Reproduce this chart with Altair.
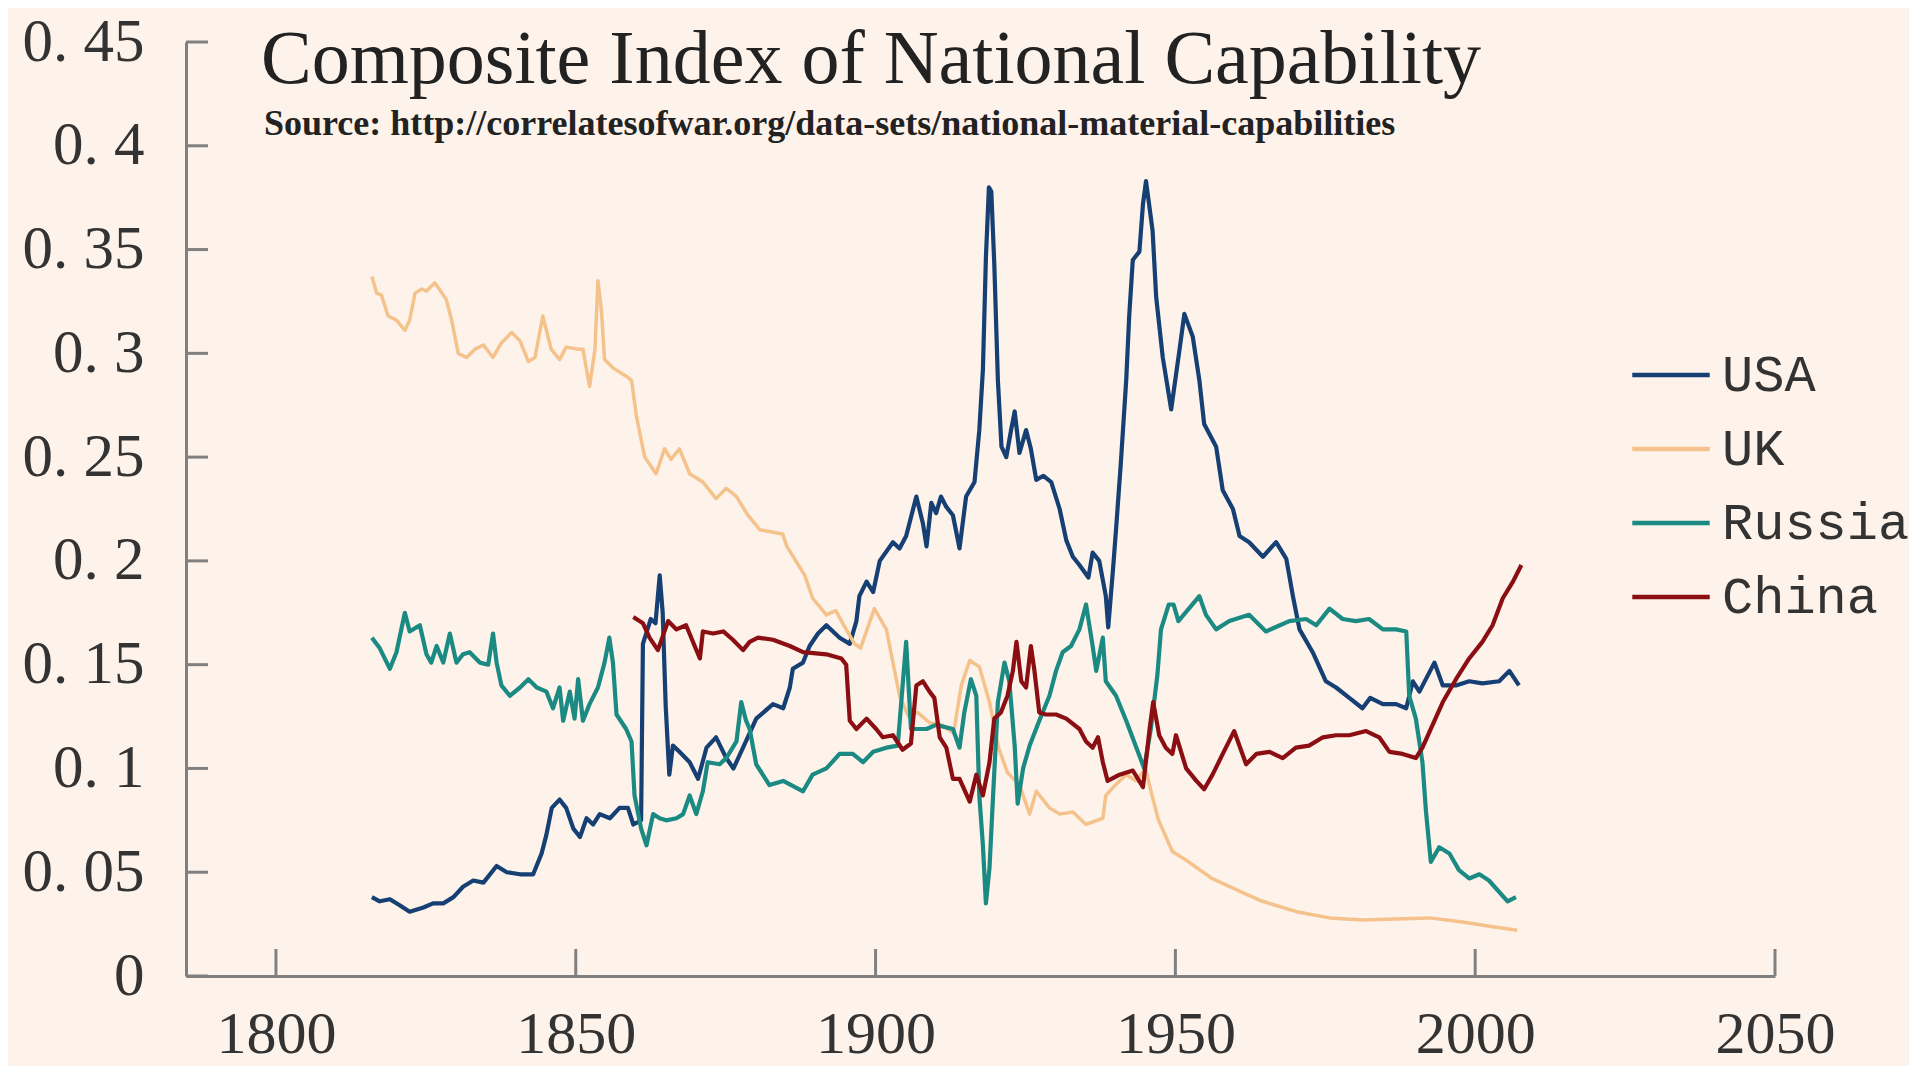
import altair as alt
import pandas as pd

countries = ["USA", "UK", "Russia", "China"]
colors = ["#163f74", "#f5c28c", "#1b8a82", "#8b0f12"]

usa_years = [1816, 1817.3, 1819, 1820.7, 1822.3, 1824.6, 1826.2, 1827.9, 1829.6, 1831.2, 1832.9, 1834.6,
             1836.8, 1838.5, 1840.7, 1842.9, 1844.3, 1845.1, 1846, 1847.3, 1848.4, 1849.6, 1850.7, 1851.8,
             1852.9, 1854, 1855.7, 1857.3, 1858.7, 1859.6, 1860.9, 1861.2, 1862.5, 1863.3, 1864, 1864.5,
             1865, 1865.6, 1866.2, 1867.3, 1869, 1870.4, 1871.8, 1873.4, 1875.1, 1876.3, 1877.9, 1880.1,
             1882.9, 1884.6, 1885.7, 1886.2, 1887.9, 1889, 1890.4, 1891.8, 1894, 1895.7, 1896.8, 1897.3,
             1898.5, 1899.6, 1900.7, 1902.9, 1904, 1905.1, 1906.8, 1907.9, 1908.5, 1909.3, 1910.1, 1910.9,
             1911.8, 1912.9, 1914, 1915.1, 1916.5, 1917.3, 1917.9, 1918.4, 1918.9, 1919.3, 1919.8, 1920.4,
             1921, 1921.8, 1922.6, 1923.2, 1924, 1925.1, 1925.9, 1926.8, 1928, 1929.3, 1930.7, 1931.8,
             1932.9, 1934, 1935.5, 1936.2, 1937.3, 1938.4, 1938.8, 1939.6, 1940.1, 1940.9, 1941.8, 1942.3,
             1942.9, 1944, 1944.6, 1945.1, 1945.7, 1946.2, 1946.8, 1947.9, 1949.3, 1950.7, 1951.5, 1952.9,
             1954, 1954.8, 1956.8, 1957.9, 1959.6, 1960.7, 1962.3, 1964.6, 1966.8, 1968.5, 1969.6, 1970.7,
             1972.9, 1975.1, 1976.8, 1979, 1981.2, 1982.5, 1984.6, 1986.8, 1988.5, 1989.6, 1990.7, 1993.2,
             1994.6, 1996.8, 1999, 2001.2, 2004, 2005.7, 2007.3]
usa_vals = [0.038, 0.036, 0.037, 0.034, 0.031, 0.033, 0.035, 0.035, 0.038, 0.043, 0.046, 0.045,
            0.053, 0.050, 0.049, 0.049, 0.059, 0.068, 0.081, 0.085, 0.081, 0.071, 0.067, 0.076,
            0.073, 0.078, 0.076, 0.081, 0.081, 0.073, 0.075, 0.160, 0.172, 0.170, 0.193, 0.175,
            0.130, 0.097, 0.111, 0.108, 0.103, 0.095, 0.110, 0.115, 0.105, 0.100, 0.110, 0.124,
            0.131, 0.129, 0.139, 0.148, 0.151, 0.159, 0.165, 0.169, 0.163, 0.160, 0.171, 0.183,
            0.190, 0.185, 0.200, 0.209, 0.206, 0.212, 0.231, 0.218, 0.207, 0.228, 0.223, 0.231,
            0.226, 0.222, 0.206, 0.231, 0.238, 0.263, 0.292, 0.346, 0.380, 0.378, 0.343, 0.287,
            0.255, 0.250, 0.263, 0.272, 0.252, 0.263, 0.254, 0.239, 0.241, 0.238, 0.225, 0.210,
            0.202, 0.198, 0.192, 0.204, 0.200, 0.183, 0.168, 0.196, 0.215, 0.247, 0.287, 0.318,
            0.345, 0.349, 0.372, 0.383, 0.370, 0.359, 0.327, 0.298, 0.273, 0.302, 0.319, 0.308,
            0.287, 0.266, 0.255, 0.234, 0.225, 0.212, 0.209, 0.202, 0.209, 0.201, 0.183, 0.167,
            0.156, 0.142, 0.139, 0.134, 0.129, 0.134, 0.131, 0.131, 0.129, 0.142, 0.137, 0.151,
            0.140, 0.140, 0.142, 0.141, 0.142, 0.147, 0.140]

uk_years = [1816, 1816.8, 1817.6, 1818.7, 1820.1, 1821.5, 1822.3, 1823.2, 1824.3, 1825.1, 1826.5, 1828.4,
            1829.3, 1830.4, 1831.8, 1833.2, 1834.6, 1836.2, 1837.6, 1839.3, 1840.7, 1842.1, 1843.2, 1844.5,
            1845.9, 1847.3, 1848.4, 1850.4, 1851.2, 1852.3, 1853.2, 1853.7, 1854.3, 1854.8, 1856.2, 1858.4,
            1859.3, 1860.1, 1861.5, 1863.4, 1864.8, 1865.9, 1867.3, 1869, 1871.2, 1873.4, 1875.1, 1876.8,
            1878.7, 1880.7, 1882.5, 1884.5, 1885.2, 1888.2, 1889.5, 1891.8, 1893.4, 1894.5, 1896.5, 1897.5,
            1899.8, 1901.8, 1902.9, 1904, 1905.5, 1907, 1909, 1911, 1913, 1914.3, 1915.7, 1917.3,
            1919, 1920.5, 1922, 1924, 1925.7, 1926.8, 1929, 1930.7, 1932.9, 1935.1, 1937.9, 1938.4,
            1940, 1941.8, 1943.5, 1945, 1946.1, 1947.2, 1949.5, 1952.2, 1956.1, 1960.6, 1964.5, 1970.2,
            1975.7, 1981.3, 1986.8, 1992.4, 1997.9, 2002.4, 2007]
uk_vals = [0.337, 0.329, 0.328, 0.318, 0.316, 0.311, 0.316, 0.329, 0.331, 0.330, 0.334, 0.326,
           0.316, 0.300, 0.298, 0.302, 0.304, 0.298, 0.305, 0.310, 0.306, 0.296, 0.298, 0.318,
           0.302, 0.297, 0.303, 0.302, 0.302, 0.284, 0.302, 0.335, 0.320, 0.297, 0.293, 0.289,
           0.287, 0.270, 0.250, 0.242, 0.254, 0.249, 0.254, 0.242, 0.238, 0.230, 0.235, 0.231,
           0.222, 0.215, 0.214, 0.213, 0.207, 0.193, 0.182, 0.174, 0.176, 0.170, 0.160, 0.158,
           0.177, 0.167, 0.151, 0.135, 0.125, 0.127, 0.122, 0.121, 0.117, 0.140, 0.152, 0.149,
           0.132, 0.110, 0.098, 0.092, 0.078, 0.089, 0.081, 0.078, 0.079, 0.073, 0.076, 0.087,
           0.092, 0.097, 0.094, 0.100, 0.087, 0.075, 0.060, 0.055, 0.047, 0.041, 0.036, 0.031,
           0.028, 0.027, 0.0275, 0.028, 0.026, 0.024, 0.022]

russia_years = [1816, 1817.3, 1819, 1820.1, 1821.5, 1822.3, 1824, 1825.1, 1825.9, 1826.8, 1827.9, 1829,
                1830.1, 1831.2, 1832.3, 1834, 1835.4, 1836.2, 1836.8, 1837.6, 1839, 1840.7, 1842.1, 1843.5,
                1845.1, 1846.2, 1847.3, 1847.9, 1849, 1849.8, 1850.4, 1851.2, 1852.3, 1853.7, 1854.8, 1855.6,
                1856.2, 1856.8, 1858.4, 1859.3, 1859.8, 1860.9, 1861.8, 1862.9, 1864, 1865.1, 1866.8, 1867.9,
                1869, 1870.1, 1871.2, 1872, 1874, 1875.1, 1876.8, 1877.6, 1878.4, 1879, 1880.1, 1882.3,
                1884.6, 1887.9, 1889.5, 1891.8, 1894, 1896.2, 1897.9, 1899.6, 1901.8, 1903.7, 1905.1, 1905.9,
                1906.8, 1908.5, 1910.1, 1912.9, 1914, 1914.8, 1915.9, 1916.8, 1917.3, 1917.9, 1918.4, 1919,
                1919.6, 1920.4, 1921.5, 1922.3, 1923.2, 1923.7, 1924.6, 1925.7, 1927.3, 1929, 1930.1, 1931.2,
                1932.6, 1934, 1935.1, 1936.2, 1936.8, 1937.9, 1938.4, 1940.1, 1941.8, 1943.5, 1944.8, 1945.9,
                1947, 1947.6, 1948.9, 1949.7, 1950.5, 1954, 1955.1, 1956.8, 1959, 1962.3, 1965.1, 1969,
                1971.8, 1973.5, 1975.7, 1977.9, 1980.1, 1982.3, 1984.6, 1986.8, 1988.5, 1989, 1990.1, 1991.2,
                1991.8, 1992.6, 1994, 1995.7, 1997.3, 1999, 2000.7, 2002.3, 2005.4, 2006.8]
russia_vals = [0.163, 0.158, 0.148, 0.156, 0.175, 0.166, 0.169, 0.155, 0.151, 0.159, 0.151, 0.165,
               0.151, 0.155, 0.156, 0.151, 0.150, 0.165, 0.151, 0.140, 0.135, 0.139, 0.143, 0.139,
               0.137, 0.129, 0.139, 0.123, 0.137, 0.124, 0.143, 0.123, 0.131, 0.139, 0.151, 0.163,
               0.151, 0.126, 0.119, 0.113, 0.087, 0.071, 0.063, 0.078, 0.076, 0.075, 0.076, 0.078,
               0.087, 0.078, 0.089, 0.103, 0.102, 0.105, 0.113, 0.132, 0.123, 0.119, 0.102, 0.092,
               0.094, 0.089, 0.097, 0.100, 0.107, 0.107, 0.103, 0.108, 0.110, 0.111, 0.161, 0.119,
               0.119, 0.119, 0.121, 0.119, 0.110, 0.127, 0.143, 0.135, 0.087, 0.063, 0.035, 0.052,
               0.087, 0.132, 0.151, 0.142, 0.111, 0.083, 0.100, 0.111, 0.123, 0.135, 0.147, 0.156,
               0.159, 0.167, 0.179, 0.159, 0.147, 0.163, 0.142, 0.135, 0.123, 0.110, 0.100, 0.119,
               0.145, 0.167, 0.179, 0.179, 0.171, 0.183, 0.174, 0.167, 0.171, 0.174, 0.166, 0.171,
               0.172, 0.169, 0.177, 0.172, 0.171, 0.172, 0.167, 0.167, 0.166, 0.135, 0.124, 0.103,
               0.079, 0.055, 0.062, 0.059, 0.051, 0.047, 0.049, 0.046, 0.036, 0.038]

china_years = [1859.6, 1861.2, 1862.3, 1863.7, 1865.4, 1866.8, 1868.4, 1870.7, 1871.2, 1872.9, 1874.6, 1876.2,
               1877.9, 1879, 1880.4, 1882.9, 1885.7, 1887.9, 1891.8, 1894.3, 1895.1, 1895.7, 1896.8, 1898.5,
               1900.1, 1901.2, 1902.9, 1904.5, 1905.9, 1906.8, 1907.9, 1909, 1909.8, 1910.7, 1911.8, 1912.9,
               1914, 1915.7, 1916.8, 1917.9, 1919, 1919.8, 1920.9, 1922, 1922.9, 1923.5, 1924.3, 1925.1,
               1925.9, 1926.5, 1927.3, 1928.4, 1930.1, 1931.8, 1934, 1935.1, 1936.2, 1937.1, 1937.9, 1938.7,
               1940.7, 1942.9, 1944.6, 1945.7, 1946.3, 1947.3, 1948.4, 1949.5, 1950.1, 1951.8, 1953.5, 1954.8,
               1956.2, 1957.9, 1959.8, 1961.8, 1963.5, 1965.7, 1967.9, 1970.1, 1972.3, 1974.6, 1976.8, 1979,
               1981.8, 1984, 1985.7, 1987.9, 1990.1, 1991.2, 1992.9, 1994.6, 1996.8, 1999, 2001.2, 2002.9,
               2004.6, 2006.3, 2007.7]
china_vals = [0.173, 0.170, 0.163, 0.157, 0.171, 0.167, 0.169, 0.153, 0.166, 0.165, 0.166, 0.162,
              0.157, 0.161, 0.163, 0.162, 0.159, 0.156, 0.155, 0.153, 0.150, 0.123, 0.119, 0.124,
              0.119, 0.115, 0.116, 0.109, 0.112, 0.140, 0.142, 0.137, 0.134, 0.115, 0.110, 0.095,
              0.095, 0.084, 0.097, 0.087, 0.103, 0.124, 0.127, 0.135, 0.147, 0.161, 0.142, 0.139,
              0.159, 0.147, 0.127, 0.126, 0.126, 0.124, 0.119, 0.113, 0.110, 0.115, 0.103, 0.094,
              0.097, 0.099, 0.091, 0.119, 0.132, 0.116, 0.110, 0.107, 0.116, 0.100, 0.094, 0.090,
              0.097, 0.107, 0.118, 0.102, 0.107, 0.108, 0.105, 0.110, 0.111, 0.115, 0.116, 0.116,
              0.118, 0.115, 0.108, 0.107, 0.105, 0.110, 0.121, 0.132, 0.143, 0.153, 0.161, 0.169,
              0.182, 0.190, 0.198]

x_tick_values = [1800, 1850, 1900, 1950, 2000, 2050]
y_tick_values = [0, 0.05, 0.1, 0.15, 0.2, 0.25, 0.3, 0.35, 0.4, 0.45]

title_text = "Composite Index of National Capability"
source_text = "Source: http://correlatesofwar.org/data-sets/national-material-capabilities"

series = [("USA", usa_years, usa_vals), ("UK", uk_years, uk_vals),
          ("Russia", russia_years, russia_vals), ("China", china_years, china_vals)]
rows = []
for name, ys, vs in series:
    for yr, v in zip(ys, vs):
        rows.append({"country": name, "year": yr, "value": v})
df = pd.DataFrame(rows)

W, H = 1589, 934
AXIS_COLOR = "#808080"
LABEL_COLOR = "#333333"

x_axis = alt.Axis(values=x_tick_values, ticks=False, tickSize=0, grid=False, domainColor=AXIS_COLOR,
                  domainWidth=3, labelFont="Liberation Serif", labelFontSize=60, labelColor=LABEL_COLOR,
                  labelPadding=29, labelFlush=False, labelOverlap=False, title=None, format="d")
y_axis = alt.Axis(values=y_tick_values, ticks=False, tickSize=0, grid=False, domainColor=AXIS_COLOR,
                  domainWidth=3, labelFont="Liberation Serif", labelFontSize=61, labelColor=LABEL_COLOR,
                  labelPadding=42, labelFlush=False, labelOverlap=False, title=None,
                  labelExpr="datum.value == 0 ? '0' : replace(format(datum.value, '.2~f'), '.', '. ')")
x_scale = alt.Scale(domain=[1785, 2050], nice=False, zero=False)
y_scale = alt.Scale(domain=[0, 0.45], nice=False, zero=False)
color_scale = alt.Scale(domain=countries, range=colors)
legend = alt.Legend(title=None, orient="none", legendX=1444, legendY=292, symbolType="stroke",
                    symbolSize=6000, symbolStrokeWidth=4.5, rowPadding=7, labelFont="Liberation Mono",
                    labelFontSize=52, labelColor=LABEL_COLOR, labelOffset=10, labelLimit=500, padding=0)

def X(field):
    return alt.X(field + ":Q", scale=x_scale, axis=x_axis)

def Y(field):
    return alt.Y(field + ":Q", scale=y_scale, axis=y_axis)

widths = {"USA": 4.2, "UK": 3.5, "Russia": 4.2, "China": 4.2}
layers = []
for c in countries:
    layers.append(
        alt.Chart(df).transform_filter(alt.datum.country == c)
        .mark_line(strokeWidth=widths[c], strokeJoin="round")
        .encode(x=X("year"), y=Y("value"),
                color=alt.Color("country:N", scale=color_scale, legend=legend))
    )

xt = pd.DataFrame({"year": x_tick_values})
yt = pd.DataFrame({"value": y_tick_values})
x_ticks = alt.Chart(xt).mark_rule(color=AXIS_COLOR, strokeWidth=3).encode(
    x=X("year"), y=alt.value(H), y2=alt.value(H - 27))
y_ticks = alt.Chart(yt).mark_rule(color=AXIS_COLOR, strokeWidth=3).encode(
    y=Y("value"), x=alt.value(0), x2=alt.value(22))

title_mark = alt.Chart(pd.DataFrame({"t": [title_text]})).mark_text(
    align="left", baseline="alphabetic", font="Liberation Serif", fontSize=76, color="#222222"
).encode(text="t:N", x=alt.value(75), y=alt.value(41))
source_mark = alt.Chart(pd.DataFrame({"t": [source_text]})).mark_text(
    align="left", baseline="alphabetic", font="Liberation Serif", fontSize=36, fontWeight="bold",
    color="#222222"
).encode(text="t:N", x=alt.value(78), y=alt.value(93))

chart = alt.layer(x_ticks, y_ticks, *layers, title_mark, source_mark).properties(
    width=W, height=H, autosize="none",
    padding={"left": 178, "top": 34, "right": 134, "bottom": 90},
).configure(background="#fdf3ea").configure_view(stroke=None)

chart.save("out.html", embed_options={"renderer": "svg", "actions": False})
